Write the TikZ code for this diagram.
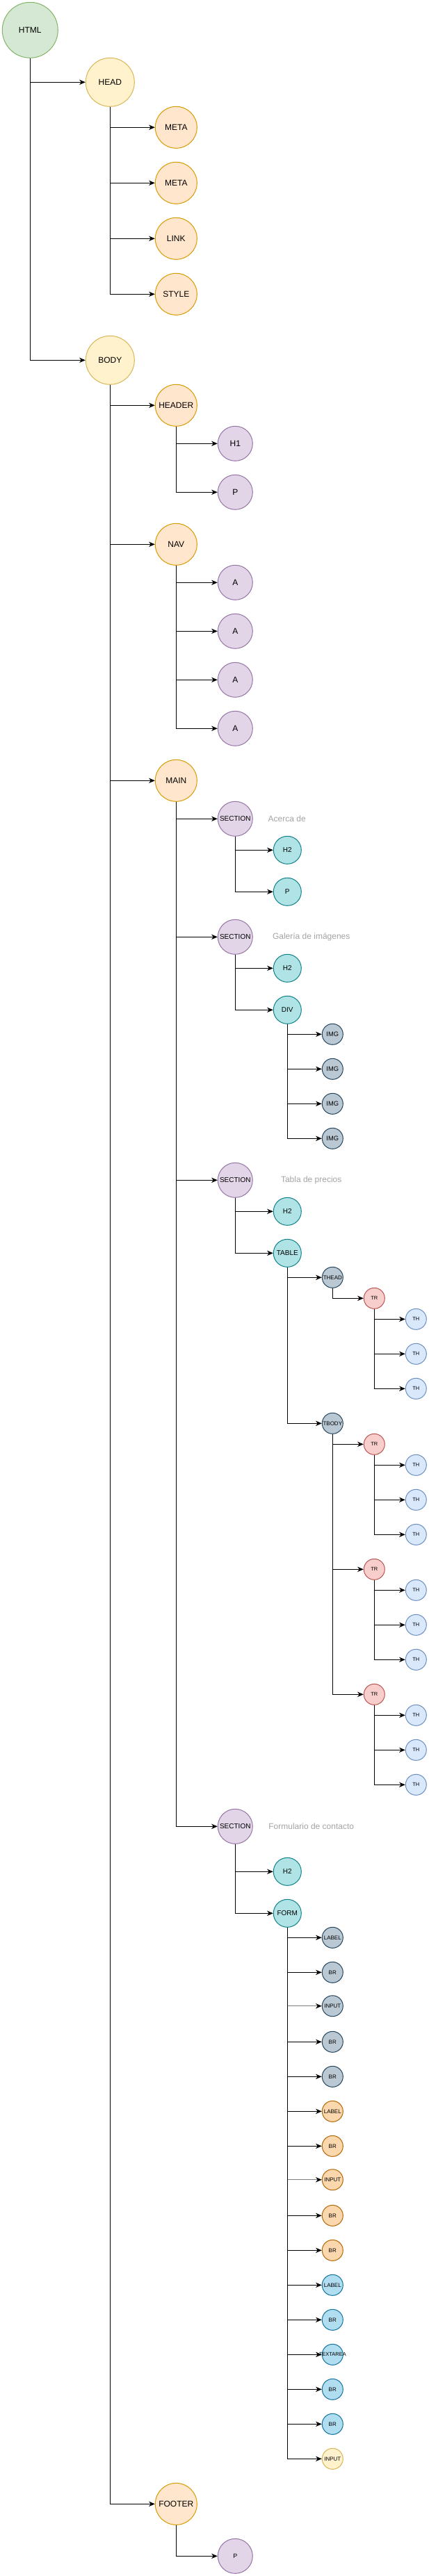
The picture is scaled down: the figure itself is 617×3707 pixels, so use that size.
\documentclass[tikz,border=0pt]{standalone}
\usepackage{fontspec}
\setmainfont{Liberation Sans}
\usetikzlibrary{arrows.meta}
\definecolor{gfill}{HTML}{D5E8D4}\definecolor{gdraw}{HTML}{82B366}
\definecolor{yfill}{HTML}{FFF2CC}\definecolor{ydraw}{HTML}{D6B656}
\definecolor{ofill}{HTML}{FFE6CC}\definecolor{odraw}{HTML}{D79B00}
\definecolor{pfill}{HTML}{E1D5E7}\definecolor{pdraw}{HTML}{9673A6}
\definecolor{tfill}{HTML}{B0E3E6}\definecolor{tdraw}{HTML}{0E8088}
\definecolor{bgfill}{HTML}{BAC8D3}\definecolor{bgdraw}{HTML}{23445D}
\definecolor{rfill}{HTML}{F8CECC}\definecolor{rdraw}{HTML}{B85450}
\definecolor{lbfill}{HTML}{DAE8FC}\definecolor{lbdraw}{HTML}{6C8EBF}
\definecolor{o2fill}{HTML}{FAD7AC}\definecolor{o2draw}{HTML}{B46504}
\definecolor{bfill}{HTML}{B1DDF0}\definecolor{bdraw}{HTML}{10739E}
\definecolor{note}{HTML}{A3A3A3}
\definecolor{greyline}{HTML}{7F7F7F}
\begin{document}
\begin{tikzpicture}[x=0.75pt,y=-0.75pt,
  base/.style={circle,draw,line width=0.75pt,inner sep=0pt,text=black},
  rA/.style={base,minimum size=60pt,font=\fontsize{9}{10}\selectfont},
  rB/.style={base,minimum size=52.5pt,font=\fontsize{9}{10}\selectfont},
  rC/.style={base,minimum size=45pt,font=\fontsize{9}{10}\selectfont},
  rD/.style={base,minimum size=37.5pt,font=\fontsize{9}{10}\selectfont},
  rDs/.style={base,minimum size=37.5pt,font=\fontsize{7.5}{8}\selectfont},
  rE/.style={base,minimum size=30pt,font=\fontsize{7.5}{8}\selectfont},
  rF/.style={base,minimum size=22.5pt,font=\fontsize{6}{7}\selectfont},
  rFi/.style={base,minimum size=22.5pt,font=\fontsize{7}{8}\selectfont},
  rFt/.style={base,minimum size=22.5pt,font=\fontsize{5.6}{6}\selectfont},
  green/.style={fill=gfill,draw=gdraw},
  yel/.style={fill=yfill,draw=ydraw},
  org/.style={fill=ofill,draw=odraw},
  pur/.style={fill=pfill,draw=pdraw},
  teal/.style={fill=tfill,draw=tdraw},
  bgr/.style={fill=bgfill,draw=bgdraw},
  red/.style={fill=rfill,draw=rdraw},
  lbl/.style={fill=lbfill,draw=lbdraw},
  org2/.style={fill=o2fill,draw=o2draw},
  blu/.style={fill=bfill,draw=bdraw},
  notetext/.style={text=note,inner sep=0pt,font=\fontsize{9}{10}\selectfont},
  conn/.style={line width=0.75pt,-{Stealth[length=6.5pt,width=5.5pt,inset=2pt]}},
  connG/.style={line width=1.1pt,greyline,-{Stealth[length=6.5pt,width=5.5pt,inset=2pt,color=black]}}
]
\useasboundingbox (0,0) rectangle (617,3707);

% ---------- nodes ----------
\node[rA,green] (html) at (43.3,43.3) {HTML};
\node[rB,yel] (head) at (158.3,118.3) {HEAD};
\node[rC,org] (meta1) at (253.3,183.3) {META};
\node[rC,org] (meta2) at (253.3,263.3) {META};
\node[rC,org] (link) at (253.3,343.3) {LINK};
\node[rC,org] (style) at (253.3,423.3) {STYLE};
\node[rB,yel] (body) at (158.3,518.3) {BODY};
\node[rC,org] (header) at (253.3,583.3) {HEADER};
\node[rD,pur] (h1) at (338.3,638.3) {H1};
\node[rD,pur] (hp) at (338.3,708.3) {P};
\node[rC,org] (nav) at (253.3,783.3) {NAV};
\node[rD,pur] (a1) at (338.3,838.3) {A};
\node[rD,pur] (a2) at (338.3,908.3) {A};
\node[rD,pur] (a3) at (338.3,978.3) {A};
\node[rD,pur] (a4) at (338.3,1048.3) {A};
\node[rC,org] (main) at (253.3,1123.3) {MAIN};

\node[rDs,pur] (sec1) at (338.3,1178.3) {SECTION};
\node[notetext] (n1) at (412.7,1178.3) {Acerca de};
\node[rE,teal] (s1h2) at (413.3,1223.3) {H2};
\node[rE,teal] (s1p) at (413.3,1283.3) {P};

\node[rDs,pur] (sec2) at (338.3,1348.3) {SECTION};
\node[notetext] (n2) at (447.7,1348.3) {Galería de imágenes};
\node[rE,teal] (s2h2) at (413.3,1393.3) {H2};
\node[rE,teal] (div) at (413.3,1453.3) {DIV};
\node[rFi,bgr] (img1) at (478.3,1488.3) {IMG};
\node[rFi,bgr] (img2) at (478.3,1538.3) {IMG};
\node[rFi,bgr] (img3) at (478.3,1588.3) {IMG};
\node[rFi,bgr] (img4) at (478.3,1638.3) {IMG};

\node[rDs,pur] (sec3) at (338.3,1698.3) {SECTION};
\node[notetext] (n3) at (447.7,1698.3) {Tabla de precios};
\node[rE,teal] (s3h2) at (413.3,1743.3) {H2};
\node[rE,teal] (table) at (413.3,1803.3) {TABLE};
\node[rF,bgr] (thead) at (478.3,1838.3) {THEAD};
\node[rFt,red] (tr0) at (538.3,1868.3) {TR};
\node[rFt,lbl] (th01) at (598.3,1898.3) {TH};
\node[rFt,lbl] (th02) at (598.3,1948.3) {TH};
\node[rFt,lbl] (th03) at (598.3,1998.3) {TH};
\node[rF,bgr] (tbody) at (478.3,2048.3) {TBODY};
\node[rFt,red] (tr1) at (538.3,2078.3) {TR};
\node[rFt,lbl] (th11) at (598.3,2108.3) {TH};
\node[rFt,lbl] (th12) at (598.3,2158.3) {TH};
\node[rFt,lbl] (th13) at (598.3,2208.3) {TH};
\node[rFt,red] (tr2) at (538.3,2258.3) {TR};
\node[rFt,lbl] (th21) at (598.3,2288.3) {TH};
\node[rFt,lbl] (th22) at (598.3,2338.3) {TH};
\node[rFt,lbl] (th23) at (598.3,2388.3) {TH};
\node[rFt,red] (tr3) at (538.3,2438.3) {TR};
\node[rFt,lbl] (th31) at (598.3,2468.3) {TH};
\node[rFt,lbl] (th32) at (598.3,2518.3) {TH};
\node[rFt,lbl] (th33) at (598.3,2568.3) {TH};

\node[rDs,pur] (sec4) at (338.3,2628.3) {SECTION};
\node[notetext] (n4) at (447.7,2628.3) {Formulario de contacto};
\node[rE,teal] (s4h2) at (413.3,2693.3) {H2};
\node[rE,teal] (form) at (413.3,2753.3) {FORM};
\node[rF,bgr] (f1) at (478.3,2788.3) {LABEL};
\node[rF,bgr] (f2) at (478.3,2838.3) {BR};
\node[rF,bgr] (f3) at (478.3,2886.7) {INPUT};
\node[rF,bgr] (f4) at (478.3,2938.3) {BR};
\node[rF,bgr] (f5) at (478.3,2988.3) {BR};
\node[rF,org2] (f6) at (478.3,3038.3) {LABEL};
\node[rF,org2] (f7) at (478.3,3088.3) {BR};
\node[rF,org2] (f8) at (478.3,3136.7) {INPUT};
\node[rF,org2] (f9) at (478.3,3188.3) {BR};
\node[rF,org2] (f10) at (478.3,3238.3) {BR};
\node[rF,blu] (f11) at (478.3,3288.3) {LABEL};
\node[rF,blu] (f12) at (478.3,3338.3) {BR};
\node[rF,blu,label={[name=f13t,inner sep=0pt,font=\fontsize{5.6}{6}\selectfont]center:TEXTAREA}] (f13) at (478.3,3388.3) {};
\node[rF,blu] (f14) at (478.3,3438.3) {BR};
\node[rF,blu] (f15) at (478.3,3488.3) {BR};
\node[rF,yel] (f16) at (478.3,3538.3) {INPUT};

\node[rC,org] (footer) at (253.3,3603.3) {FOOTER};
\node[rD,pur,font=\fontsize{6.75}{8}\selectfont] (fp) at (338.3,3678.3) {P};

% ---------- connectors ----------
\draw[connG] (form.south) |- (f3.west);
\draw[connG] (form.south) |- (f8.west);

\draw[conn] (html.south) |- (head.west);
\draw[conn] (html.south) |- (body.west);
\foreach \c in {meta1,meta2,link,style} \draw[conn] (head.south) |- (\c.west);
\foreach \c in {header,nav,main,footer} \draw[conn] (body.south) |- (\c.west);
\foreach \c in {h1,hp} \draw[conn] (header.south) |- (\c.west);
\foreach \c in {a1,a2,a3,a4} \draw[conn] (nav.south) |- (\c.west);
\foreach \c in {sec1,sec2,sec3,sec4} \draw[conn] (main.south) |- (\c.west);
\foreach \c in {s1h2,s1p} \draw[conn] (sec1.south) |- (\c.west);
\foreach \c in {s2h2,div} \draw[conn] (sec2.south) |- (\c.west);
\foreach \c in {img1,img2,img3,img4} \draw[conn] (div.south) |- (\c.west);
\foreach \c in {s3h2,table} \draw[conn] (sec3.south) |- (\c.west);
\foreach \c in {thead,tbody} \draw[conn] (table.south) |- (\c.west);
\draw[conn] (thead.south) |- (tr0.west);
\foreach \c in {th01,th02,th03} \draw[conn] (tr0.south) |- (\c.west);
\foreach \c in {tr1,tr2,tr3} \draw[conn] (tbody.south) |- (\c.west);
\foreach \c in {th11,th12,th13} \draw[conn] (tr1.south) |- (\c.west);
\foreach \c in {th21,th22,th23} \draw[conn] (tr2.south) |- (\c.west);
\foreach \c in {th31,th32,th33} \draw[conn] (tr3.south) |- (\c.west);
\foreach \c in {s4h2,form} \draw[conn] (sec4.south) |- (\c.west);
\foreach \c in {f1,f2,f4,f5,f6,f7,f9,f10,f11,f12,f13,f14,f15,f16} \draw[conn] (form.south) |- (\c.west);
\draw[conn] (footer.south) |- (fp.west);
\end{tikzpicture}
\end{document}
